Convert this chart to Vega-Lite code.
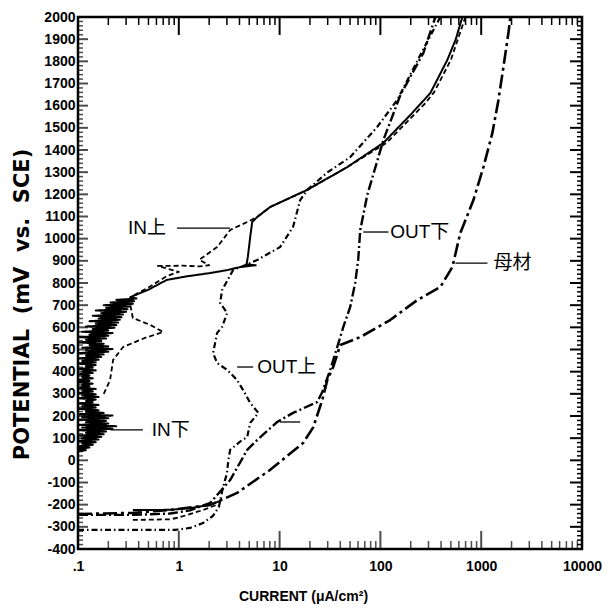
{
"$schema":"https://vega.github.io/schema/vega-lite/v6.json",
"width":504,"height":532,
"autosize":"none",
"padding":{"left":78,"top":17,"right":26,"bottom":60},
"background":"white",
"config":{"view":{"stroke":"black","strokeWidth":2.5}},
"datasets":{
"curves":[
{"s":"IN下","g":"INd1","i":1,"x":0.35,"y":-224},{"s":"IN下","g":"INd1","i":2,"x":0.6,"y":-224},{"s":"IN下","g":"INd1","i":3,"x":0.82,"y":-223},{"s":"IN下","g":"INd1","i":4,"x":1.29,"y":-216},{"s":"IN下","g":"INd1","i":5,"x":2.05,"y":-200},{"s":"IN下","g":"INd1","i":6,"x":2.6,"y":-182},
{"s":"IN下","g":"INd2","i":1,"x":0.1,"y":40},{"s":"IN下","g":"INd2","i":2,"x":0.12,"y":46},{"s":"IN下","g":"INd2","i":3,"x":0.1,"y":52},{"s":"IN下","g":"INd2","i":4,"x":0.13,"y":58},{"s":"IN下","g":"INd2","i":5,"x":0.1,"y":64},{"s":"IN下","g":"INd2","i":6,"x":0.14,"y":70},{"s":"IN下","g":"INd2","i":7,"x":0.11,"y":76},{"s":"IN下","g":"INd2","i":8,"x":0.15,"y":82},{"s":"IN下","g":"INd2","i":9,"x":0.1,"y":88},{"s":"IN下","g":"INd2","i":10,"x":0.16,"y":94},{"s":"IN下","g":"INd2","i":11,"x":0.11,"y":100},{"s":"IN下","g":"INd2","i":12,"x":0.17,"y":106},{"s":"IN下","g":"INd2","i":13,"x":0.1,"y":112},{"s":"IN下","g":"INd2","i":14,"x":0.18,"y":118},{"s":"IN下","g":"INd2","i":15,"x":0.12,"y":124},{"s":"IN下","g":"INd2","i":16,"x":0.19,"y":130},{"s":"IN下","g":"INd2","i":17,"x":0.1,"y":136},{"s":"IN下","g":"INd2","i":18,"x":0.22,"y":142},{"s":"IN下","g":"INd2","i":19,"x":0.11,"y":148},{"s":"IN下","g":"INd2","i":20,"x":0.24,"y":154},{"s":"IN下","g":"INd2","i":21,"x":0.1,"y":160},{"s":"IN下","g":"INd2","i":22,"x":0.2,"y":166},{"s":"IN下","g":"INd2","i":23,"x":0.12,"y":172},{"s":"IN下","g":"INd2","i":24,"x":0.19,"y":178},{"s":"IN下","g":"INd2","i":25,"x":0.1,"y":184},{"s":"IN下","g":"INd2","i":26,"x":0.2,"y":190},{"s":"IN下","g":"INd2","i":27,"x":0.11,"y":196},{"s":"IN下","g":"INd2","i":28,"x":0.22,"y":202},{"s":"IN下","g":"INd2","i":29,"x":0.1,"y":208},{"s":"IN下","g":"INd2","i":30,"x":0.18,"y":214},{"s":"IN下","g":"INd2","i":31,"x":0.12,"y":220},{"s":"IN下","g":"INd2","i":32,"x":0.16,"y":226},{"s":"IN下","g":"INd2","i":33,"x":0.1,"y":232},{"s":"IN下","g":"INd2","i":34,"x":0.15,"y":238},{"s":"IN下","g":"INd2","i":35,"x":0.11,"y":244},{"s":"IN下","g":"INd2","i":36,"x":0.16,"y":250},{"s":"IN下","g":"INd2","i":37,"x":0.1,"y":256},{"s":"IN下","g":"INd2","i":38,"x":0.14,"y":262},{"s":"IN下","g":"INd2","i":39,"x":0.12,"y":268},{"s":"IN下","g":"INd2","i":40,"x":0.15,"y":274},{"s":"IN下","g":"INd2","i":41,"x":0.1,"y":280},{"s":"IN下","g":"INd2","i":42,"x":0.16,"y":286},{"s":"IN下","g":"INd2","i":43,"x":0.11,"y":292},{"s":"IN下","g":"INd2","i":44,"x":0.15,"y":298},{"s":"IN下","g":"INd2","i":45,"x":0.1,"y":304},{"s":"IN下","g":"INd2","i":46,"x":0.14,"y":310},{"s":"IN下","g":"INd2","i":47,"x":0.11,"y":316},{"s":"IN下","g":"INd2","i":48,"x":0.15,"y":322},{"s":"IN下","g":"INd2","i":49,"x":0.1,"y":328},{"s":"IN下","g":"INd2","i":50,"x":0.13,"y":334},{"s":"IN下","g":"INd2","i":51,"x":0.11,"y":340},{"s":"IN下","g":"INd2","i":52,"x":0.14,"y":346},{"s":"IN下","g":"INd2","i":53,"x":0.1,"y":352},{"s":"IN下","g":"INd2","i":54,"x":0.13,"y":358},{"s":"IN下","g":"INd2","i":55,"x":0.1,"y":364},{"s":"IN下","g":"INd2","i":56,"x":0.14,"y":370},{"s":"IN下","g":"INd2","i":57,"x":0.11,"y":376},{"s":"IN下","g":"INd2","i":58,"x":0.13,"y":382},{"s":"IN下","g":"INd2","i":59,"x":0.1,"y":388},{"s":"IN下","g":"INd2","i":60,"x":0.14,"y":394},{"s":"IN下","g":"INd2","i":61,"x":0.11,"y":400},{"s":"IN下","g":"INd2","i":62,"x":0.15,"y":406},{"s":"IN下","g":"INd2","i":63,"x":0.1,"y":412},{"s":"IN下","g":"INd2","i":64,"x":0.14,"y":418},{"s":"IN下","g":"INd2","i":65,"x":0.12,"y":424},{"s":"IN下","g":"INd2","i":66,"x":0.15,"y":430},{"s":"IN下","g":"INd2","i":67,"x":0.1,"y":436},{"s":"IN下","g":"INd2","i":68,"x":0.15,"y":442},{"s":"IN下","g":"INd2","i":69,"x":0.11,"y":448},{"s":"IN下","g":"INd2","i":70,"x":0.16,"y":454},{"s":"IN下","g":"INd2","i":71,"x":0.1,"y":460},{"s":"IN下","g":"INd2","i":72,"x":0.17,"y":466},{"s":"IN下","g":"INd2","i":73,"x":0.12,"y":472},{"s":"IN下","g":"INd2","i":74,"x":0.18,"y":478},{"s":"IN下","g":"INd2","i":75,"x":0.1,"y":484},{"s":"IN下","g":"INd2","i":76,"x":0.2,"y":490},{"s":"IN下","g":"INd2","i":77,"x":0.12,"y":496},{"s":"IN下","g":"INd2","i":78,"x":0.22,"y":502},{"s":"IN下","g":"INd2","i":79,"x":0.11,"y":508},{"s":"IN下","g":"INd2","i":80,"x":0.2,"y":514},{"s":"IN下","g":"INd2","i":81,"x":0.13,"y":520},{"s":"IN下","g":"INd2","i":82,"x":0.18,"y":526},{"s":"IN下","g":"INd2","i":83,"x":0.1,"y":532},{"s":"IN下","g":"INd2","i":84,"x":0.17,"y":538},{"s":"IN下","g":"INd2","i":85,"x":0.12,"y":544},{"s":"IN下","g":"INd2","i":86,"x":0.19,"y":550},{"s":"IN下","g":"INd2","i":87,"x":0.1,"y":556},{"s":"IN下","g":"INd2","i":88,"x":0.2,"y":562},{"s":"IN下","g":"INd2","i":89,"x":0.13,"y":568},{"s":"IN下","g":"INd2","i":90,"x":0.22,"y":574},{"s":"IN下","g":"INd2","i":91,"x":0.11,"y":580},{"s":"IN下","g":"INd2","i":92,"x":0.2,"y":586},{"s":"IN下","g":"INd2","i":93,"x":0.14,"y":592},{"s":"IN下","g":"INd2","i":94,"x":0.23,"y":598},{"s":"IN下","g":"INd2","i":95,"x":0.12,"y":604},{"s":"IN下","g":"INd2","i":96,"x":0.24,"y":610},{"s":"IN下","g":"INd2","i":97,"x":0.15,"y":616},{"s":"IN下","g":"INd2","i":98,"x":0.25,"y":622},{"s":"IN下","g":"INd2","i":99,"x":0.13,"y":628},{"s":"IN下","g":"INd2","i":100,"x":0.26,"y":634},{"s":"IN下","g":"INd2","i":101,"x":0.16,"y":640},{"s":"IN下","g":"INd2","i":102,"x":0.27,"y":646},{"s":"IN下","g":"INd2","i":103,"x":0.14,"y":652},{"s":"IN下","g":"INd2","i":104,"x":0.28,"y":658},{"s":"IN下","g":"INd2","i":105,"x":0.17,"y":664},{"s":"IN下","g":"INd2","i":106,"x":0.3,"y":670},{"s":"IN下","g":"INd2","i":107,"x":0.15,"y":676},{"s":"IN下","g":"INd2","i":108,"x":0.31,"y":682},{"s":"IN下","g":"INd2","i":109,"x":0.19,"y":688},{"s":"IN下","g":"INd2","i":110,"x":0.33,"y":694},{"s":"IN下","g":"INd2","i":111,"x":0.18,"y":700},{"s":"IN下","g":"INd2","i":112,"x":0.35,"y":706},{"s":"IN下","g":"INd2","i":113,"x":0.21,"y":712},{"s":"IN下","g":"INd2","i":114,"x":0.36,"y":718},{"s":"IN下","g":"INd2","i":115,"x":0.24,"y":724},{"s":"IN下","g":"INd2","i":116,"x":0.38,"y":730},{"s":"IN下","g":"INd2","i":117,"x":0.33,"y":736},
{"s":"IN下","g":"INd2","i":118,"x":0.5,"y":770},{"s":"IN下","g":"INd2","i":119,"x":0.76,"y":814},{"s":"IN下","g":"INd2","i":120,"x":1.2,"y":830},{"s":"IN下","g":"INd2","i":121,"x":2.05,"y":845},{"s":"IN下","g":"INd2","i":122,"x":3.0,"y":858},{"s":"IN下","g":"INd2","i":123,"x":4.06,"y":872},{"s":"IN下","g":"INd2","i":124,"x":5.8,"y":880},{"s":"IN下","g":"INd2","i":125,"x":4.7,"y":884},{"s":"IN下","g":"INd2","i":126,"x":4.85,"y":920},{"s":"IN下","g":"INd2","i":127,"x":5.11,"y":1008},{"s":"IN下","g":"INd2","i":128,"x":5.35,"y":1075},{"s":"IN下","g":"INd2","i":129,"x":6.0,"y":1098},{"s":"IN下","g":"INd2","i":130,"x":8.07,"y":1143},{"s":"IN下","g":"INd2","i":131,"x":18.8,"y":1220},{"s":"IN下","g":"INd2","i":132,"x":46.9,"y":1323},{"s":"IN下","g":"INd2","i":133,"x":107,"y":1432},{"s":"IN下","g":"INd2","i":134,"x":200,"y":1560},{"s":"IN下","g":"INd2","i":135,"x":313,"y":1657},{"s":"IN下","g":"INd2","i":136,"x":461,"y":1806},{"s":"IN下","g":"INd2","i":137,"x":560,"y":1900},{"s":"IN下","g":"INd2","i":138,"x":650,"y":2000},
{"s":"IN上","g":"INu1","i":1,"x":0.35,"y":-269},{"s":"IN上","g":"INu1","i":2,"x":0.82,"y":-266},{"s":"IN上","g":"INu1","i":3,"x":1.0,"y":-258},{"s":"IN上","g":"INu1","i":4,"x":1.74,"y":-224},{"s":"IN上","g":"INu1","i":5,"x":2.4,"y":-200},
{"s":"IN上","g":"INu2","i":1,"x":0.18,"y":300},{"s":"IN上","g":"INu2","i":2,"x":0.208,"y":362},{"s":"IN上","g":"INu2","i":3,"x":0.223,"y":453},{"s":"IN上","g":"INu2","i":4,"x":0.28,"y":511},{"s":"IN上","g":"INu2","i":5,"x":0.46,"y":552},{"s":"IN上","g":"INu2","i":6,"x":0.7,"y":579},{"s":"IN上","g":"INu2","i":7,"x":0.52,"y":611},{"s":"IN上","g":"INu2","i":8,"x":0.35,"y":642},{"s":"IN上","g":"INu2","i":9,"x":0.33,"y":701},{"s":"IN上","g":"INu2","i":10,"x":0.36,"y":745},{"s":"IN上","g":"INu2","i":11,"x":0.5,"y":780},{"s":"IN上","g":"INu2","i":12,"x":0.765,"y":832},{"s":"IN上","g":"INu2","i":13,"x":1.0,"y":850},{"s":"IN上","g":"INu2","i":14,"x":0.62,"y":877},{"s":"IN上","g":"INu2","i":15,"x":1.1,"y":878},{"s":"IN上","g":"INu2","i":16,"x":1.6,"y":875},{"s":"IN上","g":"INu2","i":17,"x":2.0,"y":880},{"s":"IN上","g":"INu2","i":18,"x":1.6,"y":905},{"s":"IN上","g":"INu2","i":19,"x":2.4,"y":962},{"s":"IN上","g":"INu2","i":20,"x":3.23,"y":1039},{"s":"IN上","g":"INu2","i":21,"x":4.77,"y":1075},{"s":"IN上","g":"INu2","i":22,"x":6.0,"y":1098},{"s":"IN上","g":"INu2","i":23,"x":8.07,"y":1143},{"s":"IN上","g":"INu2","i":24,"x":18.8,"y":1220},{"s":"IN上","g":"INu2","i":25,"x":46.9,"y":1323},{"s":"IN上","g":"INu2","i":26,"x":115,"y":1432},{"s":"IN上","g":"INu2","i":27,"x":280,"y":1612},{"s":"IN上","g":"INu2","i":28,"x":340,"y":1660},{"s":"IN上","g":"INu2","i":29,"x":500,"y":1806},{"s":"IN上","g":"INu2","i":30,"x":697,"y":2000},
{"s":"OUT上","g":"OUTu","i":1,"x":0.1,"y":-314},{"s":"OUT上","g":"OUTu","i":2,"x":0.92,"y":-314},{"s":"OUT上","g":"OUTu","i":3,"x":1.29,"y":-305},{"s":"OUT上","g":"OUTu","i":4,"x":1.74,"y":-283},{"s":"OUT上","g":"OUTu","i":5,"x":2.19,"y":-250},{"s":"OUT上","g":"OUTu","i":6,"x":2.5,"y":-210},{"s":"OUT上","g":"OUTu","i":7,"x":2.75,"y":-120},{"s":"OUT上","g":"OUTu","i":8,"x":3.0,"y":-60},{"s":"OUT上","g":"OUTu","i":9,"x":3.1,"y":0},{"s":"OUT上","g":"OUTu","i":10,"x":3.23,"y":47},{"s":"OUT上","g":"OUTu","i":11,"x":4.2,"y":90},{"s":"OUT上","g":"OUTu","i":12,"x":4.77,"y":105},{"s":"OUT上","g":"OUTu","i":13,"x":5.11,"y":169},{"s":"OUT上","g":"OUTu","i":14,"x":6.16,"y":214},{"s":"OUT上","g":"OUTu","i":15,"x":5.11,"y":259},{"s":"OUT上","g":"OUTu","i":16,"x":4.35,"y":317},{"s":"OUT上","g":"OUTu","i":17,"x":3.79,"y":362},{"s":"OUT上","g":"OUTu","i":18,"x":3.02,"y":408},{"s":"OUT上","g":"OUTu","i":19,"x":2.4,"y":439},{"s":"OUT上","g":"OUTu","i":20,"x":2.19,"y":484},{"s":"OUT上","g":"OUTu","i":21,"x":2.29,"y":529},{"s":"OUT上","g":"OUTu","i":22,"x":2.4,"y":575},{"s":"OUT上","g":"OUTu","i":23,"x":2.69,"y":602},{"s":"OUT上","g":"OUTu","i":24,"x":3.02,"y":665},{"s":"OUT上","g":"OUTu","i":25,"x":2.57,"y":710},{"s":"OUT上","g":"OUTu","i":26,"x":2.69,"y":768},{"s":"OUT上","g":"OUTu","i":27,"x":3.46,"y":859},{"s":"OUT上","g":"OUTu","i":28,"x":5.11,"y":890},{"s":"OUT上","g":"OUTu","i":29,"x":6.0,"y":904},{"s":"OUT上","g":"OUTu","i":30,"x":10.1,"y":962},{"s":"OUT上","g":"OUTu","i":31,"x":13.6,"y":1053},{"s":"OUT上","g":"OUTu","i":32,"x":16.0,"y":1174},{"s":"OUT上","g":"OUTu","i":33,"x":18.8,"y":1220},{"s":"OUT上","g":"OUTu","i":34,"x":30,"y":1300},{"s":"OUT上","g":"OUTu","i":35,"x":50.2,"y":1368},{"s":"OUT上","g":"OUTu","i":36,"x":93,"y":1504},{"s":"OUT上","g":"OUTu","i":37,"x":147,"y":1626},{"s":"OUT上","g":"OUTu","i":38,"x":249,"y":1829},{"s":"OUT上","g":"OUTu","i":39,"x":393,"y":2000},
{"s":"OUT下","g":"OUTd","i":1,"x":0.1,"y":-246},{"s":"OUT下","g":"OUTd","i":2,"x":0.35,"y":-246},{"s":"OUT下","g":"OUTd","i":3,"x":0.82,"y":-240},{"s":"OUT下","g":"OUTd","i":4,"x":1.29,"y":-226},{"s":"OUT下","g":"OUTd","i":5,"x":2.05,"y":-192},{"s":"OUT下","g":"OUTd","i":6,"x":3.23,"y":-89},{"s":"OUT下","g":"OUTd","i":7,"x":4.77,"y":47},{"s":"OUT下","g":"OUTd","i":8,"x":6.0,"y":92},{"s":"OUT下","g":"OUTd","i":9,"x":9.46,"y":173},{"s":"OUT下","g":"OUTd","i":10,"x":13.6,"y":214},{"s":"OUT下","g":"OUTd","i":11,"x":23.6,"y":263},{"s":"OUT下","g":"OUTd","i":12,"x":26.5,"y":308},{"s":"OUT下","g":"OUTd","i":13,"x":31.8,"y":408},{"s":"OUT下","g":"OUTd","i":14,"x":37.3,"y":511},{"s":"OUT下","g":"OUTd","i":15,"x":42.9,"y":602},{"s":"OUT下","g":"OUTd","i":16,"x":50.2,"y":692},{"s":"OUT下","g":"OUTd","i":17,"x":56.2,"y":800},{"s":"OUT下","g":"OUTd","i":18,"x":60.2,"y":904},{"s":"OUT下","g":"OUTd","i":19,"x":63.1,"y":1039},{"s":"OUT下","g":"OUTd","i":20,"x":74.1,"y":1197},{"s":"OUT下","g":"OUTd","i":21,"x":107,"y":1445},{"s":"OUT下","g":"OUTd","i":22,"x":158,"y":1648},{"s":"OUT下","g":"OUTd","i":23,"x":267,"y":1838},{"s":"OUT下","g":"OUTd","i":24,"x":351,"y":2000},
{"s":"母材","g":"BM","i":1,"x":0.1,"y":-242},{"s":"母材","g":"BM","i":2,"x":0.352,"y":-237},{"s":"母材","g":"BM","i":3,"x":0.82,"y":-224},{"s":"母材","g":"BM","i":4,"x":2.05,"y":-201},{"s":"母材","g":"BM","i":5,"x":3.79,"y":-147},{"s":"母材","g":"BM","i":6,"x":8.07,"y":-43},{"s":"母材","g":"BM","i":7,"x":17.1,"y":78},{"s":"母材","g":"BM","i":8,"x":21.6,"y":150},{"s":"母材","g":"BM","i":9,"x":26.5,"y":272},{"s":"母材","g":"BM","i":10,"x":29.7,"y":362},{"s":"母材","g":"BM","i":11,"x":34.0,"y":421},{"s":"母材","g":"BM","i":12,"x":40.0,"y":520},{"s":"母材","g":"BM","i":13,"x":63.1,"y":556},{"s":"母材","g":"BM","i":14,"x":125,"y":633},{"s":"母材","g":"BM","i":15,"x":232,"y":723},{"s":"母材","g":"BM","i":16,"x":393,"y":782},{"s":"母材","g":"BM","i":17,"x":518,"y":872},{"s":"母材","g":"BM","i":18,"x":621,"y":1026},{"s":"母材","g":"BM","i":19,"x":837,"y":1174},{"s":"母材","g":"BM","i":20,"x":1052,"y":1323},{"s":"母材","g":"BM","i":21,"x":1291,"y":1477},{"s":"母材","g":"BM","i":22,"x":1483,"y":1626},{"s":"母材","g":"BM","i":23,"x":1661,"y":1774},{"s":"母材","g":"BM","i":24,"x":1862,"y":1928},{"s":"母材","g":"BM","i":25,"x":1950,"y":2000}
],
"pointers":[
{"x":0.96,"x2":3.23,"y":1048},{"x":0.21,"x2":0.44,"y":137},{"x":3.79,"x2":5.47,"y":421},{"x":67.6,"x2":120,"y":1030},{"x":555,"x2":1153,"y":890},{"x":10.1,"x2":16.0,"y":173}
],
"labels":[
{"t":"IN上","x":0.314,"y":1048},{"t":"IN下","x":0.54,"y":137},{"t":"OUT上","x":6.0,"y":421},{"t":"OUT下","x":125,"y":1030},{"t":"母材","x":1321,"y":890}
],
"xmaj":[{"v":0.1},{"v":1},{"v":10},{"v":100},{"v":1000},{"v":10000}],
"xmin":[{"v":0.2},{"v":0.3},{"v":0.4},{"v":0.5},{"v":0.6},{"v":0.7},{"v":0.8},{"v":0.9},{"v":2},{"v":3},{"v":4},{"v":5},{"v":6},{"v":7},{"v":8},{"v":9},{"v":20},{"v":30},{"v":40},{"v":50},{"v":60},{"v":70},{"v":80},{"v":90},{"v":200},{"v":300},{"v":400},{"v":500},{"v":600},{"v":700},{"v":800},{"v":900},{"v":2000},{"v":3000},{"v":4000},{"v":5000},{"v":6000},{"v":7000},{"v":8000},{"v":9000}],
"ymaj":[{"v":-400},{"v":-300},{"v":-200},{"v":-100},{"v":0},{"v":100},{"v":200},{"v":300},{"v":400},{"v":500},{"v":600},{"v":700},{"v":800},{"v":900},{"v":1000},{"v":1100},{"v":1200},{"v":1300},{"v":1400},{"v":1500},{"v":1600},{"v":1700},{"v":1800},{"v":1900},{"v":2000}],
"ymin":[{"v":-380},{"v":-360},{"v":-340},{"v":-320},{"v":-280},{"v":-260},{"v":-240},{"v":-220},{"v":-180},{"v":-160},{"v":-140},{"v":-120},{"v":-80},{"v":-60},{"v":-40},{"v":-20},{"v":20},{"v":40},{"v":60},{"v":80},{"v":120},{"v":140},{"v":160},{"v":180},{"v":220},{"v":240},{"v":260},{"v":280},{"v":320},{"v":340},{"v":360},{"v":380},{"v":420},{"v":440},{"v":460},{"v":480},{"v":520},{"v":540},{"v":560},{"v":580},{"v":620},{"v":640},{"v":660},{"v":680},{"v":720},{"v":740},{"v":760},{"v":780},{"v":820},{"v":840},{"v":860},{"v":880},{"v":920},{"v":940},{"v":960},{"v":980},{"v":1020},{"v":1040},{"v":1060},{"v":1080},{"v":1120},{"v":1140},{"v":1160},{"v":1180},{"v":1220},{"v":1240},{"v":1260},{"v":1280},{"v":1320},{"v":1340},{"v":1360},{"v":1380},{"v":1420},{"v":1440},{"v":1460},{"v":1480},{"v":1520},{"v":1540},{"v":1560},{"v":1580},{"v":1620},{"v":1640},{"v":1660},{"v":1680},{"v":1720},{"v":1740},{"v":1760},{"v":1780},{"v":1820},{"v":1840},{"v":1860},{"v":1880},{"v":1920},{"v":1940},{"v":1960},{"v":1980}]
},
"layer":[
{"data":{"name":"curves"},
"mark":{"type":"line","color":"black","clip":true,"strokeJoin":"round"},
"encoding":{
"x":{"field":"x","type":"quantitative","scale":{"type":"log","domain":[0.1,10000],"nice":false},
"axis":{"orient":"bottom","domain":false,"grid":false,"ticks":false,
"values":[0.1,1,10,100,1000,10000],
"labelExpr":"datum.value === 0.1 ? '.1' : '' + datum.value",
"labelOverlap":false,"labelFlush":false,
"labelFont":"Liberation Sans","labelFontWeight":"bold","labelFontSize":14,"labelColor":"black","labelPadding":10,
"title":"CURRENT (μA/cm²)","titleFont":"Liberation Sans","titleFontSize":14,"titleFontWeight":"bold","titleColor":"black",
"titleX":225,"titleY":47,"titleAlign":"center","titleBaseline":"middle"}},
"y":{"field":"y","type":"quantitative","scale":{"domain":[-400,2000],"nice":false,"zero":false},
"axis":{"orient":"left","domain":false,"grid":false,"ticks":false,
"values":[-400,-300,-200,-100,0,100,200,300,400,500,600,700,800,900,1000,1100,1200,1300,1400,1500,1600,1700,1800,1900,2000],
"labelExpr":"'' + datum.value",
"labelOverlap":false,"labelFlush":false,
"labelFont":"Liberation Sans","labelFontWeight":"bold","labelFontSize":14,"labelColor":"black","labelPadding":3,
"title":"POTENTIAL \u00a0(mV \u00a0vs. \u00a0SCE)","titleFont":"DejaVu Sans","titleFontSize":21,"titleFontWeight":"bold","titleColor":"black",
"titleX":-56,"titleY":287,"titleAlign":"center","titleBaseline":"middle","titleAngle":270}},
"detail":{"field":"g"},
"order":{"field":"i","type":"quantitative"},
"strokeDash":{"field":"s","type":"nominal","scale":{"domain":["IN上","IN下","OUT上","OUT下","母材"],"range":[[5,3],[1,0],[6,3,1.5,3],[10,3,2,3],[14,4,3,4]]},"legend":null},
"strokeWidth":{"field":"s","type":"nominal","scale":{"domain":["IN上","IN下","OUT上","OUT下","母材"],"range":[1.8,2.6,1.5,1.6,1.6]},"legend":null}
}},
{"data":{"name":"pointers"},
"mark":{"type":"rule","color":"black","strokeWidth":1.3},
"encoding":{
"x":{"field":"x","type":"quantitative","axis":null},
"x2":{"field":"x2"},
"y":{"field":"y","type":"quantitative","axis":null}
}},
{"data":{"name":"labels"},
"mark":{"type":"text","align":"left","baseline":"middle","font":"Liberation Sans, 'Noto Sans CJK JP'","fontSize":19,"color":"black"},
"encoding":{
"x":{"field":"x","type":"quantitative","axis":null},
"y":{"field":"y","type":"quantitative","axis":null},
"text":{"field":"t"}
}},
{"data":{"name":"xmaj"},
"mark":{"type":"tick","orient":"vertical","color":"black","size":36,"thickness":2,"clip":true},
"encoding":{"x":{"field":"v","type":"quantitative","axis":null},"y":{"datum":-400,"type":"quantitative","axis":null}}},
{"data":{"name":"xmin"},
"mark":{"type":"tick","orient":"vertical","color":"black","size":16,"thickness":1.5,"clip":true},
"encoding":{"x":{"field":"v","type":"quantitative","axis":null},"y":{"datum":-400,"type":"quantitative","axis":null}}},
{"data":{"name":"xmaj"},
"mark":{"type":"rule","color":"black","strokeWidth":2},
"encoding":{"x":{"field":"v","type":"quantitative","axis":null},"y":{"datum":2000,"type":"quantitative","axis":null},"y2":{"datum":1919}}},
{"data":{"name":"xmin"},
"mark":{"type":"rule","color":"black","strokeWidth":1.5},
"encoding":{"x":{"field":"v","type":"quantitative","axis":null},"y":{"datum":2000,"type":"quantitative","axis":null},"y2":{"datum":1964}}},
{"data":{"name":"ymaj"},
"mark":{"type":"tick","orient":"horizontal","color":"black","size":20,"thickness":2,"clip":true},
"encoding":{"y":{"field":"v","type":"quantitative","axis":null},"x":{"datum":0.1,"type":"quantitative","axis":null}}},
{"data":{"name":"ymin"},
"mark":{"type":"tick","orient":"horizontal","color":"black","size":10,"thickness":1.5,"clip":true},
"encoding":{"y":{"field":"v","type":"quantitative","axis":null},"x":{"datum":0.1,"type":"quantitative","axis":null}}},
{"data":{"name":"ymaj"},
"mark":{"type":"rule","color":"black","strokeWidth":2},
"encoding":{"y":{"field":"v","type":"quantitative","axis":null},"x":{"datum":10000,"type":"quantitative","axis":null},"x2":{"datum":7601}}},
{"data":{"name":"ymin"},
"mark":{"type":"rule","color":"black","strokeWidth":1.5},
"encoding":{"y":{"field":"v","type":"quantitative","axis":null},"x":{"datum":10000,"type":"quantitative","axis":null},"x2":{"datum":8919}}}
],
"resolve":{"axis":{"x":"independent","y":"independent"}}
}
